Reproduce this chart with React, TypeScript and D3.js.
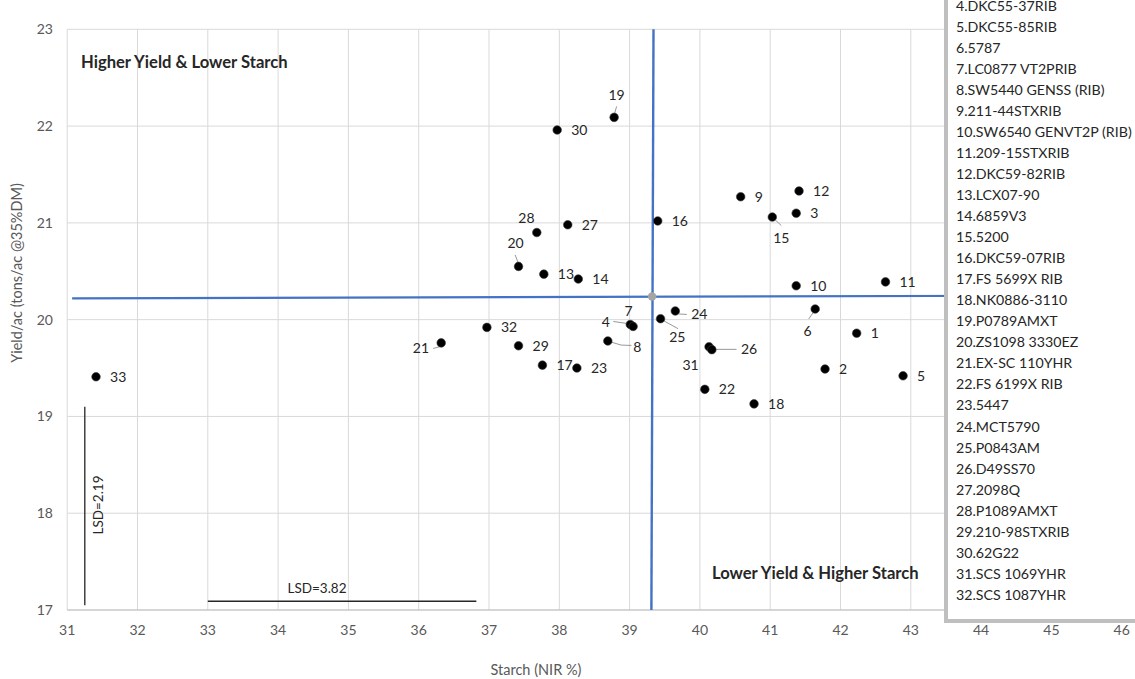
import React from "react";
import * as d3 from "d3";

const W = 1135;
const H = 679;

// ---- data ----
const xTickValues = d3.range(31, 47);
const yTickValues = d3.range(17, 24);

const hybridIds = [
  1, 2, 3, 4, 5, 6, 7, 8, 9, 10, 11, 12, 13, 14, 15, 16, 17, 18, 19, 20, 21, 22,
  23, 24, 25, 26, 27, 28, 29, 30, 31, 32, 33,
];
const starchPct = [
  42.23, 41.78, 41.37, 39.01, 42.89, 41.64, 39.05, 38.69, 40.58, 41.37, 42.64,
  41.41, 37.78, 38.27, 41.03, 39.4, 37.76, 40.77, 38.78, 37.42, 36.32, 40.07,
  38.25, 39.65, 39.44, 40.13, 38.12, 37.68, 37.42, 37.97, 40.17, 36.97, 31.41,
];
const yieldTons = [
  19.86, 19.49, 21.1, 19.95, 19.42, 20.11, 19.93, 19.78, 21.27, 20.35, 20.39,
  21.33, 20.47, 20.42, 21.06, 21.02, 19.53, 19.13, 22.09, 20.55, 19.76, 19.28,
  19.5, 20.09, 20.01, 19.72, 20.98, 20.9, 19.73, 21.96, 19.69, 19.92, 19.41,
];

const legendFirstId = 4;
const legendNames = [
  "DKC55-37RIB",
  "DKC55-85RIB",
  "5787",
  "LC0877 VT2PRIB",
  "SW5440 GENSS (RIB)",
  "211-44STXRIB",
  "SW6540 GENVT2P (RIB)",
  "209-15STXRIB",
  "DKC59-82RIB",
  "LCX07-90",
  "6859V3",
  "5200",
  "DKC59-07RIB",
  "FS 5699X RIB",
  "NK0886-3110",
  "P0789AMXT",
  "ZS1098 3330EZ",
  "EX-SC 110YHR",
  "FS 6199X RIB",
  "5447",
  "MCT5790",
  "P0843AM",
  "D49SS70",
  "2098Q",
  "P1089AMXT",
  "210-98STXRIB",
  "62G22",
  "SCS 1069YHR",
  "SCS 1087YHR",
];

const meanStarch = [39.34, 39.31]; // top, bottom of vertical mean line
const meanYield = [20.22, 20.25]; // left, right of horizontal mean line
const meanPoint = { starch: 39.32, yield: 20.24 };

const lsdYieldLabel = "LSD=2.19";
const lsdYieldSpan = [17.05, 19.1];
const lsdYieldAt = 31.25;
const lsdStarchLabel = "LSD=3.82";
const lsdStarchStart = 33;
const lsdStarchValue = 3.82;
const lsdStarchAt = 17.09;

const xTitle = "Starch (NIR %)";
const yTitle = "Yield/ac (tons/ac @35%DM)";
const quadTopLeft = "Higher Yield & Lower Starch";
const quadBottomRight = "Lower Yield & Higher Starch";

// label placement relative to point (styling)
type LabelPos = {
  dx: number;
  dy: number;
  anchor?: string;
  leader?: [number, number, number, number];
  curve?: boolean;
};
const defaultLabel: LabelPos = { dx: 14, dy: 5, anchor: "start" };
const labelPlacement: Record<number, LabelPos> = {
  19: { dx: 2.5, dy: -17, anchor: "middle", leader: [0.5, -4, 2.5, -11] },
  28: { dx: -10.4, dy: -9.5, anchor: "middle" },
  20: { dx: -3, dy: -18.5, anchor: "middle", leader: [-3.4, -11.5, -0.5, -4] },
  15: { dx: 9, dy: 25.5, anchor: "middle", leader: [2, 2, 9, 8.5] },
  6: { dx: -7.6, dy: 26.5, anchor: "middle", leader: [-2, 3.5, -6.5, 10] },
  7: { dx: -4.5, dy: -10.5, anchor: "middle" },
  4: { dx: -24.4, dy: 2.7, anchor: "middle", leader: [-17, -3, -3, -1] },
  25: { dx: 16.8, dy: 23.5, anchor: "middle", leader: [3, 2, 17.5, 10] },
  24: { dx: 24, dy: 8.3, anchor: "middle", leader: [3, 3, 11.5, 3.5] },
  8: { dx: 29.4, dy: 11, anchor: "middle", leader: [3, 1, 23.5, 4.5], curve: true },
  26: { dx: 40, dy: 7.6, anchor: "middle", leader: [4, 2.6, 27.5, 2.6] },
  31: { dx: -21.3, dy: 20.7, anchor: "middle" },
  21: { dx: -20.3, dy: 10.6, anchor: "middle", leader: [-8, 5.6, -2, 4] },
};

const FONT = "Lato, 'Open Sans', sans-serif";

export default function App() {
  const x = d3.scaleLinear().domain([31, 46]).range([67.2, 1121.7]);
  const y = d3.scaleLinear().domain([17, 23]).range([610, 29.3]);

  const points = hybridIds.map((id, i) => ({
    id,
    starch: starchPct[i],
    yld: yieldTons[i],
  }));

  const lineSpacing = 21.05;
  const legendTopCenter = 5.5;

  return (
    <svg
      width={W}
      height={H}
      style={{ position: "absolute", left: 0, top: 0, background: "#fff" }}
      fontFamily={FONT}
    >
      <rect x={0} y={0} width={W} height={H} fill="#ffffff" />
      {/* gridlines */}
      <g stroke="#d9d9d9" strokeWidth={1}>
        {xTickValues.map((t) => (
          <line key={"gx" + t} x1={x(t)} x2={x(t)} y1={y(23)} y2={y(17)} />
        ))}
        {yTickValues.map((t) => (
          <line key={"gy" + t} x1={x(31)} x2={x(46)} y1={y(t)} y2={y(t)} />
        ))}
      </g>
      <line x1={x(31)} x2={x(46)} y1={y(17)} y2={y(17)} stroke="#bfbfbf" strokeWidth={1.2} />

      {/* tick labels */}
      <g fontSize={14} fill="#595959">
        {xTickValues.map((t) => (
          <text key={"tx" + t} x={x(t)} y={y(17) + 25} textAnchor="middle">
            {t}
          </text>
        ))}
        {yTickValues.map((t) => (
          <text key={"ty" + t} x={53} y={y(t) + 5} textAnchor="end">
            {t}
          </text>
        ))}
      </g>

      {/* axis titles */}
      <text x={536} y={675} textAnchor="middle" fontSize={14.5} fill="#595959">
        {xTitle}
      </text>
      <text
        transform={`translate(22,${273}) rotate(-90)`}
        textAnchor="middle"
        fontSize={14.5}
        fill="#595959"
      >
        {yTitle}
      </text>

      {/* quadrant texts */}
      <text x={81} y={67.5} fontSize={16.6} fontWeight="bold" fill="#262626">
        {quadTopLeft}
      </text>
      <text x={712} y={579} fontSize={16.6} fontWeight="bold" fill="#262626">
        {quadBottomRight}
      </text>

      {/* mean lines */}
      <line
        x1={x(31.07)}
        x2={x(46)}
        y1={y(meanYield[0])}
        y2={y(meanYield[1])}
        stroke="#4472c4"
        strokeWidth={2.2}
      />
      <line
        x1={x(meanStarch[0])}
        x2={x(meanStarch[1])}
        y1={y(23)}
        y2={y(17)}
        stroke="#4472c4"
        strokeWidth={2.4}
      />
      <circle cx={x(meanPoint.starch)} cy={y(meanPoint.yield)} r={4.2} fill="#a5a5a5" />

      {/* LSD bars */}
      <line
        x1={x(lsdYieldAt)}
        x2={x(lsdYieldAt)}
        y1={y(lsdYieldSpan[0])}
        y2={y(lsdYieldSpan[1])}
        stroke="#404040"
        strokeWidth={1.5}
      />
      <text
        transform={`translate(${x(lsdYieldAt) + 18.5},${505}) rotate(-90)`}
        textAnchor="middle"
        fontSize={13.5}
        fill="#262626"
      >
        {lsdYieldLabel}
      </text>
      <line
        x1={x(lsdStarchStart)}
        x2={x(lsdStarchStart + lsdStarchValue)}
        y1={y(lsdStarchAt)}
        y2={y(lsdStarchAt)}
        stroke="#262626"
        strokeWidth={1.6}
      />
      <text
        x={317}
        y={y(lsdStarchAt) - 8.5}
        textAnchor="middle"
        fontSize={13.5}
        fill="#262626"
      >
        {lsdStarchLabel}
      </text>

      {/* leader lines */}
      <g stroke="#8c8c8c" strokeWidth={0.9} fill="none">
        {points.map((p) => {
          const lp = labelPlacement[p.id];
          if (!lp || !lp.leader) return null;
          const cx = x(p.starch);
          const cy = y(p.yld);
          const [a, b, c, d] = lp.leader;
          if (lp.curve) {
            return (
              <path
                key={"ld" + p.id}
                d={`M${cx + a},${cy + b} Q${cx + (a + c) / 2},${cy + d + 1} ${cx + c},${cy + d}`}
              />
            );
          }
          return (
            <line
              key={"ld" + p.id}
              x1={cx + a}
              y1={cy + b}
              x2={cx + c}
              y2={cy + d}
            />
          );
        })}
      </g>

      {/* points */}
      <g>
        {points.map((p) => (
          <circle
            key={"pt" + p.id}
            cx={x(p.starch)}
            cy={y(p.yld)}
            r={4.3}
            fill="#000"
            stroke="#3a3a3a"
            strokeWidth={0.6}
          />
        ))}
      </g>

      {/* point labels */}
      <g fontSize={14} fill="#262626">
        {points.map((p) => {
          const lp = labelPlacement[p.id] || defaultLabel;
          return (
            <text
              key={"lb" + p.id}
              x={x(p.starch) + lp.dx}
              y={y(p.yld) + lp.dy}
              textAnchor={lp.anchor || "start"}
            >
              {p.id}
            </text>
          );
        })}
      </g>

      {/* legend box */}
      <rect
        x={946}
        y={-60}
        width={220}
        height={681}
        fill="#ffffff"
        stroke="#bfbfbf"
        strokeWidth={4}
      />
      <g fontSize={14.2} fill="#262626">
        {legendNames.map((name, i) => (
          <text
            key={"lg" + i}
            x={956}
            y={legendTopCenter + i * lineSpacing + 5}
          >
            {`${legendFirstId + i}.${name}`}
          </text>
        ))}
      </g>
    </svg>
  );
}
